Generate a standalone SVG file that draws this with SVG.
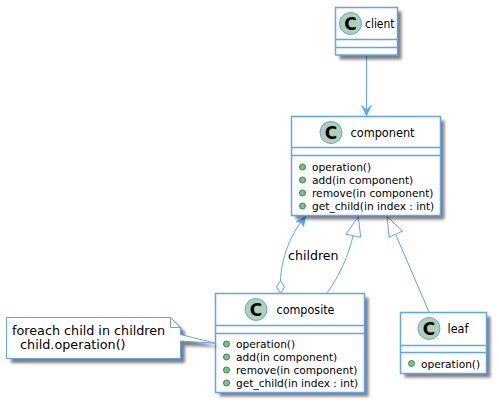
<svg xmlns="http://www.w3.org/2000/svg" width="499" height="405" viewBox="0 0 499 405">
<style>
.b{fill:#fff;stroke:#5CA5FF;stroke-width:1.5}
.c{fill:none;stroke:#5CA5FF;stroke-width:1}
.h{fill:#fff;stroke:#5CA5FF;stroke-width:1}
.a{fill:#5CA5FF;stroke:#5CA5FF;stroke-width:1}
.sh{fill:#000;opacity:.5}
.ci{fill:#ADD1B2;stroke:#5CA5FF;stroke-width:1}
.cl{font:bold 17px "DejaVu Sans",sans-serif;fill:#000;text-anchor:middle}
.t{font:12.500px "DejaVu Sans",sans-serif;fill:#000}
.m{font:10.600px "DejaVu Sans",sans-serif;fill:#000}
.d{fill:#84BE84;stroke:#2E8B57;stroke-width:1}
</style>
<defs>
<filter id="s" x="-10%" y="-15%" width="125%" height="135%"><feGaussianBlur stdDeviation="1.800"/></filter>
</defs>
<g id="connectors">
<path class="c" d="M366.500 55.500V115"/>
<path class="a" d="M361.700 105.500L366.500 115.500L371.300 105.500L366.500 110Z"/>
<path class="c" d="M280.500 281C281 262 288 238 304 218"/>
<path class="a" d="M296.500 221.500L305.500 216.500L303.500 226.500L301.500 222.500Z"/>
<path class="h" d="M280.500 280.700L284.500 287L280.500 293.300L276.500 287Z"/>
<path class="c" d="M327 293C340 275 349 254 353 236"/>
<path class="h" d="M358.300 216.700L346 234.200L360.700 237.300Z"/>
<path class="c" d="M429 312L395.700 234.500"/>
<path class="h" d="M387 216.500L389 237.300L402.700 231Z"/>
</g>
<text class="t" x="288" y="260" textLength="50.500" lengthAdjust="spacingAndGlyphs">children</text>
<g id="client">
<rect class="sh" x="339.500" y="11.500" width="62" height="48" filter="url(#s)"/>
<rect class="b" x="335.500" y="7.500" width="62" height="47.500"/>
<path class="b" d="M335.500 39.500H397.500M335.500 47.500H397.500"/>
<circle class="ci" cx="350.500" cy="23.500" r="11"/>
<text class="cl" x="350.500" y="29.500">C</text>
<text class="t" x="365" y="28" textLength="29.500" lengthAdjust="spacingAndGlyphs">client</text>
</g>
<g id="component">
<rect class="sh" x="295.500" y="120.500" width="149" height="99" filter="url(#s)"/>
<rect class="b" x="291.500" y="116.500" width="149" height="99"/>
<path class="b" d="M291.500 147.500H440.500M291.500 155.500H440.500"/>
<circle class="ci" cx="331" cy="132.500" r="11"/>
<text class="cl" x="331" y="138.500">C</text>
<text class="t" x="350.500" y="137" textLength="64" lengthAdjust="spacingAndGlyphs">component</text>
<circle class="d" cx="302.500" cy="167" r="3"/><text class="m" x="312" y="171">operation()</text>
<circle class="d" cx="302.500" cy="180" r="3"/><text class="m" x="312" y="184">add(in component)</text>
<circle class="d" cx="302.500" cy="193" r="3"/><text class="m" x="312" y="197">remove(in component)</text>
<circle class="d" cx="302.500" cy="206" r="3"/><text class="m" x="312" y="210">get_child(in index : int)</text>
</g>
<g id="composite">
<rect class="sh" x="219.500" y="297.500" width="149" height="99" filter="url(#s)"/>
<rect class="b" x="215.500" y="293.500" width="149" height="99"/>
<path class="b" d="M215.500 325.500H364.500M215.500 333.500H364.500"/>
<circle class="ci" cx="256" cy="309.500" r="11"/>
<text class="cl" x="256" y="315.500">C</text>
<text class="t" x="276.500" y="314" textLength="58" lengthAdjust="spacingAndGlyphs">composite</text>
<circle class="d" cx="226.500" cy="344" r="3"/><text class="m" x="236" y="348">operation()</text>
<circle class="d" cx="226.500" cy="357" r="3"/><text class="m" x="236" y="361">add(in component)</text>
<circle class="d" cx="226.500" cy="370" r="3"/><text class="m" x="236" y="374">remove(in component)</text>
<circle class="d" cx="226.500" cy="383" r="3"/><text class="m" x="236" y="387">get_child(in index : int)</text>
</g>
<g id="leaf">
<rect class="sh" x="404.500" y="316.500" width="86" height="61" filter="url(#s)"/>
<rect class="b" x="400.500" y="312.500" width="86" height="61"/>
<path class="b" d="M400.500 345.500H486.500M400.500 352.500H486.500"/>
<circle class="ci" cx="429" cy="328.500" r="11"/>
<text class="cl" x="429" y="334.500">C</text>
<text class="t" x="447.500" y="333" textLength="21" lengthAdjust="spacingAndGlyphs">leaf</text>
<circle class="d" cx="411.500" cy="363.500" r="3"/><text class="m" x="421" y="367.500">operation()</text>
</g>
<g id="note">
<path class="sh" d="M11 322H175L185 332V339L220 347L185 346V363H11Z" filter="url(#s)"/>
<path class="h" d="M6.500 317.500H170.500L180.500 327.500V334.500L216 343.300L180.500 341V358.500H6.500Z"/>
<path class="c" d="M170.500 317.500V327.500H180.500"/>
<text class="t" x="12" y="335" style="font-size:12.750px">foreach child in children</text>
<text class="t" x="12" y="349.300" style="font-size:12.750px" xml:space="preserve">  child.operation()</text>
</g>
</svg>
